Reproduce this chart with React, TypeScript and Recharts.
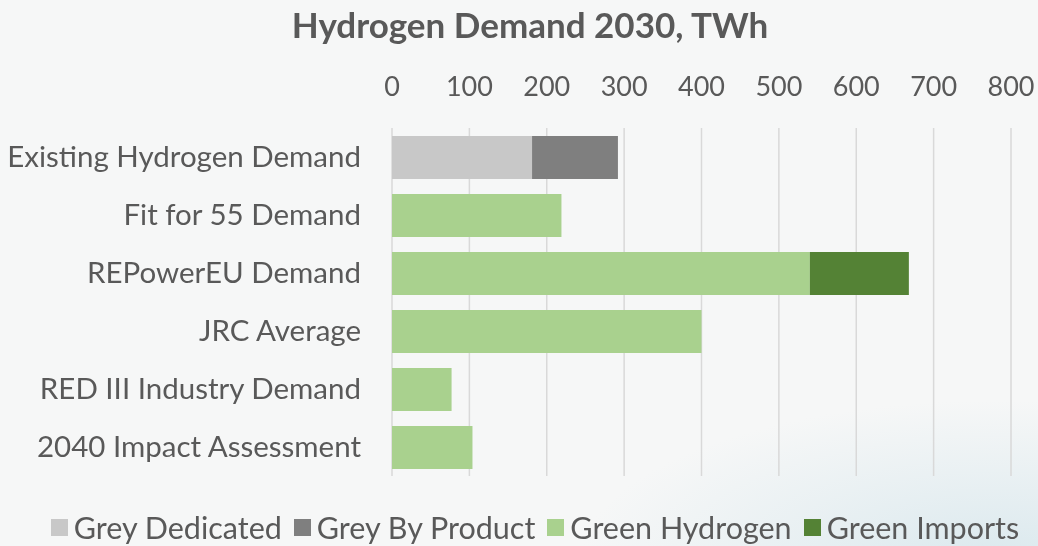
import { Bar, BarChart, CartesianGrid, Legend, XAxis, YAxis } from 'recharts';

const categories = [
  'Existing Hydrogen Demand',
  'Fit for 55 Demand',
  'REPowerEU Demand',
  'JRC Average',
  'RED III Industry Demand',
  '2040 Impact Assessment',
];
const greyDedicated = [181, 0, 0, 0, 0, 0];
const greyByProduct = [111, 0, 0, 0, 0, 0];
const greenHydrogen = [0, 219, 540, 400, 77, 104];
const greenImports = [0, 0, 128, 0, 0, 0];
const xTicks = [0, 100, 200, 300, 400, 500, 600, 700, 800];

const series = [
  { key: 'greyDedicated', name: 'Grey Dedicated', color: '#c8c8c8' },
  { key: 'greyByProduct', name: 'Grey By Product', color: '#7f7f7f' },
  { key: 'greenHydrogen', name: 'Green Hydrogen', color: '#a9d18e' },
  { key: 'greenImports', name: 'Green Imports', color: '#548235' },
];

const data = categories.map((name, i) => ({
  name,
  greyDedicated: greyDedicated[i],
  greyByProduct: greyByProduct[i],
  greenHydrogen: greenHydrogen[i],
  greenImports: greenImports[i],
}));

const FONT = 'Lato, "Open Sans", sans-serif';
const TEXT = '#595959';

function LegendRow() {
  return (
    <div style={{ display: 'flex', justifyContent: 'center', gap: 12, fontFamily: FONT, fontSize: 30.5, color: TEXT }}>
      {series.map((s) => (
        <span key={s.key} style={{ display: 'flex', alignItems: 'center', gap: 6 }}>
          <span style={{ width: 17, height: 17, background: s.color, display: 'inline-block' }} />
          {s.name}
        </span>
      ))}
    </div>
  );
}

export default function App() {
  return (
    <div
      style={{
        position: 'fixed',
        left: 0,
        top: 0,
        width: 1038,
        height: 546,
        background: 'radial-gradient(ellipse 420px 160px at 1000px 560px, #dbe9ee 0%, #f6f7f7 100%)',
      }}
    >
      <div
        style={{
          position: 'absolute',
          top: 3,
          width: 1060,
          textAlign: 'center',
          fontFamily: FONT,
          fontWeight: 700,
          fontSize: 35,
          color: TEXT,
        }}
      >
        Hydrogen Demand 2030, TWh
      </div>
      <BarChart
        width={1038}
        height={546}
        data={data}
        layout="vertical"
        margin={{ top: 60, right: 27, bottom: 70, left: 0 }}
        barSize={43}
      >
        <CartesianGrid horizontal={false} stroke="#d9d9d9" strokeWidth={1.5} />
        <XAxis
          type="number"
          orientation="top"
          domain={[0, 800]}
          ticks={xTicks}
          height={68}
          axisLine={false}
          tickLine={false}
          tickSize={0}
          tickMargin={32}
          tick={{ fill: TEXT, fontSize: 27, fontFamily: FONT }}
        />
        <YAxis
          type="category"
          dataKey="name"
          width={392}
          axisLine={false}
          tickLine={false}
          tickSize={0}
          tickMargin={31}
          tick={{ fill: TEXT, fontSize: 29.5, fontFamily: FONT }}
        />
        <Legend
          verticalAlign="middle"
          wrapperStyle={{ top: 509, left: 0, width: 1070 }}
          content={() => <LegendRow />}
        />
        {series.map((s) => (
          <Bar key={s.key} dataKey={s.key} name={s.name} stackId="a" fill={s.color} isAnimationActive={false} />
        ))}
      </BarChart>
    </div>
  );
}
